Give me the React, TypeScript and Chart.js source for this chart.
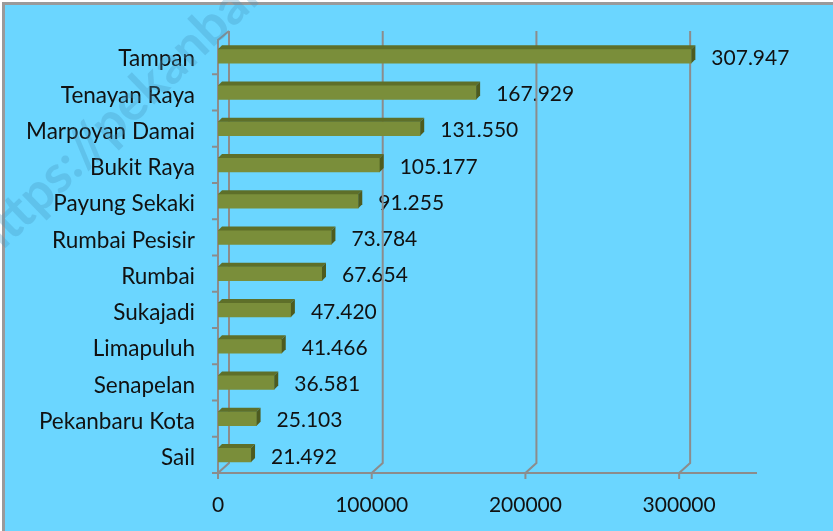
import React, { useEffect, useRef } from "react";
import { Chart, registerables } from "chart.js";

Chart.register(...registerables);

const categories = [
  "Tampan",
  "Tenayan Raya",
  "Marpoyan Damai",
  "Bukit Raya",
  "Payung Sekaki",
  "Rumbai Pesisir",
  "Rumbai",
  "Sukajadi",
  "Limapuluh",
  "Senapelan",
  "Pekanbaru Kota",
  "Sail",
];
const values = [307947, 167929, 131550, 105177, 91255, 73784, 67654, 47420, 41466, 36581, 25103, 21492];
const xTickValues = [0, 100000, 200000, 300000];
const xMax = 350000;
const watermark = "https://pekanbarukota.bps.go.id";

const FONT = "Lato, 'Open Sans', sans-serif";
const BG = "#6bd6ff";
const GRID = "#8c8c8c";
const BAR_FRONT = "#7a8e3a";
const BAR_TOP = "#5e6f29";
const BAR_SIDE = "#4d5b1f";
const DEPTH_X = 11;
const DEPTH_Y = 10;
const BAR_D = 4;

function fmt(v: number): string {
  return String(v).replace(/\B(?=(\d{3})+(?!\d))/g, ".");
}

const bgPlugin = {
  id: "bg3d",
  beforeDraw(chart: any) {
    const { ctx, width, height } = chart;
    ctx.save();
    ctx.fillStyle = "#ffffff";
    ctx.fillRect(0, 0, width, height);
    ctx.fillStyle = "#9a9a9a";
    ctx.fillRect(2, 2, width, height);
    ctx.fillStyle = BG;
    ctx.fillRect(5, 5, width, height);
    ctx.restore();
  },
  beforeDatasetsDraw(chart: any) {
    const { ctx, chartArea } = chart;
    const xs = chart.scales.x;
    const ys = chart.scales.y;
    const top = chartArea.top;
    const bottom = chartArea.bottom;
    ctx.save();
    // value labels
    ctx.fillStyle = "#111";
    ctx.font = `21px ${FONT}`;
    ctx.textAlign = "left";
    ctx.textBaseline = "middle";
    values.forEach((v, i) => {
      const x = xs.getPixelForValue(v);
      const y = ys.getPixelForValue(i);
      ctx.fillText(fmt(v), x + 20, y + 2);
    });
    // grid lines (back wall) and floor
    ctx.strokeStyle = GRID;
    ctx.lineWidth = 2;
    ctx.lineCap = "butt";
    const backTop = top - 7;
    xTickValues.forEach((v) => {
      const xf = xs.getPixelForValue(v);
      const xb = xf + DEPTH_X;
      ctx.beginPath();
      ctx.moveTo(xb, backTop);
      ctx.lineTo(xb, bottom - DEPTH_Y);
      ctx.lineTo(xf, bottom);
      ctx.lineTo(xf, bottom + 6);
      ctx.stroke();
    });
    const x0 = xs.getPixelForValue(0);
    ctx.beginPath();
    ctx.moveTo(x0 + DEPTH_X, backTop);
    ctx.lineTo(x0, top + 2);
    ctx.lineTo(x0, bottom);
    ctx.stroke();
    ctx.beginPath();
    ctx.moveTo(x0, bottom);
    ctx.lineTo(xs.getPixelForValue(xMax) + 1, bottom);
    ctx.stroke();
    const step = (bottom - top) / categories.length;
    for (let k = 1; k <= categories.length; k++) {
      const y = top + step * k;
      ctx.beginPath();
      ctx.moveTo(x0 - 6, y);
      ctx.lineTo(x0, y);
      ctx.stroke();
    }
    ctx.restore();
  },
  afterDatasetsDraw(chart: any) {
    const { ctx } = chart;
    const meta = chart.getDatasetMeta(0);
    ctx.save();
    meta.data.forEach((bar: any) => {
      const { x, y, base, height } = bar.getProps(["x", "y", "base", "height"], true);
      const t = y - height / 2;
      const b = y + height / 2;
      ctx.fillStyle = BAR_TOP;
      ctx.beginPath();
      ctx.moveTo(base, t);
      ctx.lineTo(x, t);
      ctx.lineTo(x + BAR_D, t - BAR_D);
      ctx.lineTo(base + BAR_D, t - BAR_D);
      ctx.closePath();
      ctx.fill();
      ctx.fillStyle = BAR_SIDE;
      ctx.beginPath();
      ctx.moveTo(x, t);
      ctx.lineTo(x + BAR_D, t - BAR_D);
      ctx.lineTo(x + BAR_D, b - BAR_D);
      ctx.lineTo(x, b);
      ctx.closePath();
      ctx.fill();
    });
    ctx.restore();
  },
  afterDraw(chart: any) {
    const { ctx } = chart;
    ctx.save();
    ctx.translate(-9, 262);
    ctx.rotate((-44 * Math.PI) / 180);
    ctx.font = `bold 52px ${FONT}`;
    ctx.fillStyle = "rgba(70,150,190,0.3)";
    ctx.textBaseline = "alphabetic";
    ctx.fillText(watermark, 0, 0);
    ctx.restore();
  },
};

export default function App() {
  const ref = useRef<HTMLCanvasElement | null>(null);
  useEffect(() => {
    if (!ref.current) return;
    const chart = new Chart(ref.current, {
      type: "bar",
      data: {
        labels: categories,
        datasets: [
          {
            data: values,
            backgroundColor: BAR_FRONT,
            borderWidth: 0,
            barThickness: 14,
          },
        ],
      },
      options: {
        indexAxis: "y",
        animation: false,
        responsive: false,
        maintainAspectRatio: false,
        layout: { padding: { left: 0, top: 38, right: 77, bottom: 0 } },
        plugins: { legend: { display: false }, tooltip: { enabled: false } },
        scales: {
          x: {
            min: 0,
            max: xMax,
            grid: { display: false, drawTicks: false },
            border: { display: false },
            afterBuildTicks(scale: any) {
              scale.ticks = xTickValues.map((v) => ({ value: v }));
            },
            afterFit(scale: any) {
              scale.height = 58;
            },
            ticks: {
              color: "#111",
              font: { family: FONT, size: 21 },
              padding: 20,
              maxRotation: 0,
              autoSkip: false,
              callback: (v: any) => String(v),
            },
          },
          y: {
            grid: { display: false, drawTicks: false },
            border: { display: false },
            afterFit(scale: any) {
              scale.width = 218;
            },
            ticks: {
              color: "#111",
              font: { family: FONT, size: 22.5 },
              padding: 23,
              labelOffset: 3,
              autoSkip: false,
            },
          },
        },
      },
      plugins: [bgPlugin],
    });
    return () => chart.destroy();
  }, []);
  return (
    <div style={{ position: "absolute", left: 0, top: 0, width: 833, height: 531 }}>
      <canvas ref={ref} width={833} height={531} style={{ display: "block" }} />
    </div>
  );
}
